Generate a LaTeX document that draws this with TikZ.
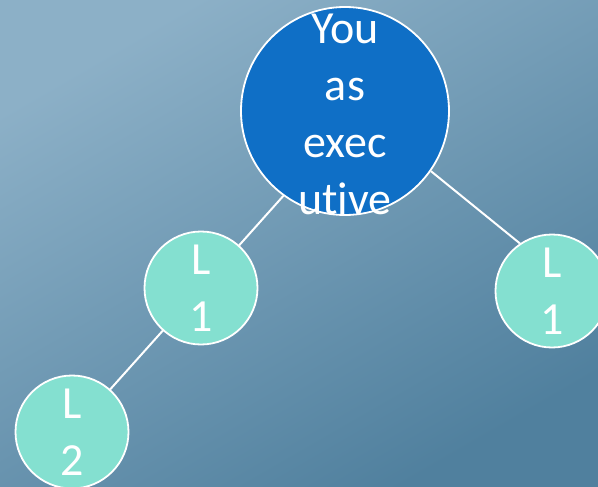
\documentclass[tikz,border=0pt]{standalone}
\usepackage{fontspec}
\setmainfont{Carlito}[Ligatures=CommonOff]
\usetikzlibrary{positioning}
\pgfdeclarelayer{background}
\pgfsetlayers{background,main}
\definecolor{skytop}{HTML}{8CB0C7}
\definecolor{skybot}{HTML}{50809E}
\definecolor{execblue}{HTML}{0F6FC6}
\definecolor{levelteal}{HTML}{84E0D0}

\begin{document}
\begin{tikzpicture}[x=1pt, y=-1pt,
		every node/.style={on grid},
		boss/.style={circle, fill=execblue, draw=white, line width=1.8pt, minimum size=208pt, inner sep=0pt},
		level/.style={circle, fill=levelteal, draw=white, line width=1.8pt, minimum size=113pt, inner sep=0pt,
			text=white, align=center, font=\fontsize{46}{57}\selectfont},
		words/.style={text=white, align=center, inner sep=0pt, font=\fontsize{46}{57}\selectfont},
		link/.style={draw=white, line width=2pt}]
	\useasboundingbox (0,0) rectangle (598,487);
	\clip (0,0) rectangle (598,487);

	% the executive on top, the levels hang below
	\node[boss] (exec) at (345,111) {};
	\node[words, yshift=-3pt] (execname) at (exec.center) {You\\as\\exec\\utive};
	\node[level, below left=177pt and 144pt of exec] (l1a) {L\\1};
	\node[level, below right=180pt and 207pt of exec] (l1b) {L\\1};
	\node[level, below left=144pt and 129pt of l1a] (l2) {L\\2};

	\begin{pgfonlayer}{background}
		\shade[top color=skytop, bottom color=skybot, shading angle=30] (0,0) rectangle (598,487);
		\draw[link] (l2.center) -- (l1a.center) -- (exec.-126);
		\draw[link] (exec.-35) -- (l1b.124);
	\end{pgfonlayer}
\end{tikzpicture}
\end{document}
